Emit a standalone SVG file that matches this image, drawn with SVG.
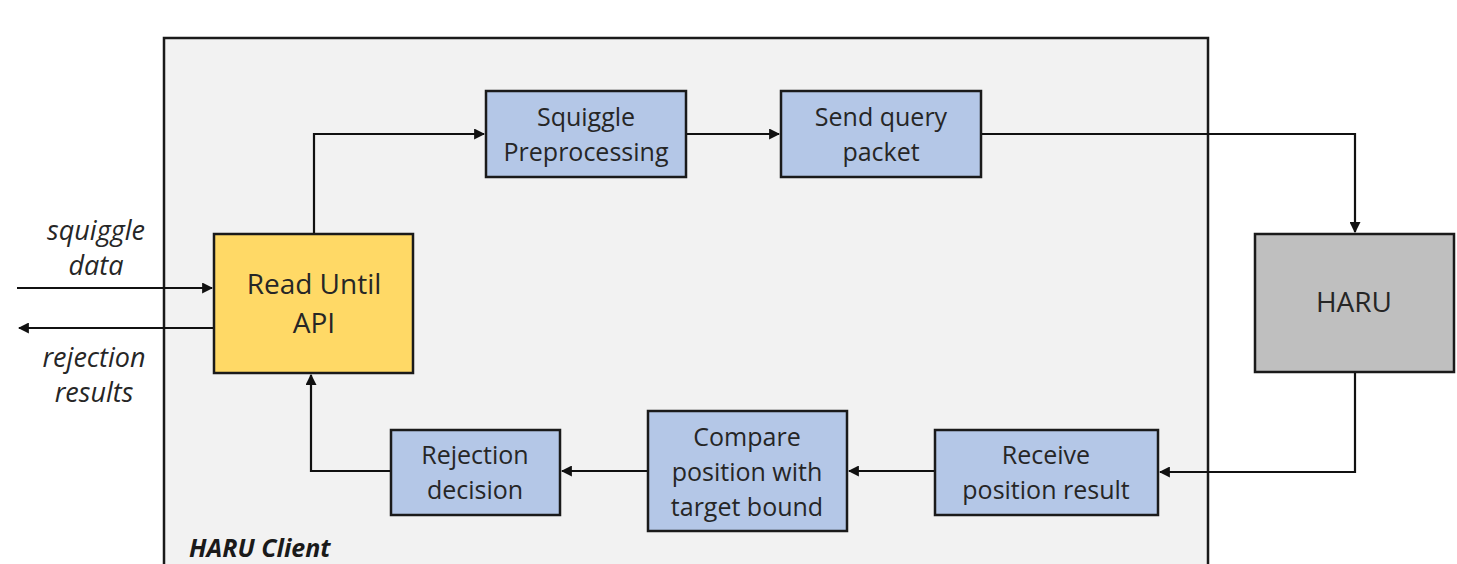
<svg xmlns="http://www.w3.org/2000/svg" width="1457" height="564" viewBox="0 0 1457 564">
  <style>
    .box { stroke: #1a1a1a; stroke-width: 2.5; }
    .step { fill: #b4c7e7; }
    .api { fill: #ffd966; }
    .server { fill: #bfbfbf; }
    .lbl { font-family: "Open Sans", "Noto Sans", "Liberation Sans", sans-serif; font-size: 25px; fill: #262626; text-anchor: middle; }
    .big { font-size: 28px; }
    .side { font-style: italic; font-size: 27px; }
    .title { font-family: "Open Sans", "Noto Sans", "Liberation Sans", sans-serif; font-size: 25px; font-weight: bold; font-style: italic; fill: #1a1a1a; }
    .wire { fill: none; stroke: #111; stroke-width: 2.2; }
  </style>
  <defs>
    <marker id="arrow" viewBox="0 0 10 10" refX="9" refY="5" markerWidth="5" markerHeight="5" orient="auto" markerUnits="strokeWidth">
      <path d="M0,0 L10,5 L0,10 z" fill="#111"/>
    </marker>
  </defs>

  <rect width="1457" height="564" fill="#ffffff"/>

  <!-- client enclosure -->
  <g id="haru-client">
    <rect x="164" y="38" width="1044" height="540" fill="#f2f2f2" class="box"/>
    <text class="title" x="189" y="557">HARU Client</text>
  </g>

  <g id="connectors">
    <path class="wire" d="M17,288 H212" marker-end="url(#arrow)"/>
    <path class="wire" d="M214,328 H19" marker-end="url(#arrow)"/>
    <path class="wire" d="M314,234 V134 H484" marker-end="url(#arrow)"/>
    <path class="wire" d="M686,134 H779" marker-end="url(#arrow)"/>
    <path class="wire" d="M981,134 H1355 V232" marker-end="url(#arrow)"/>
    <path class="wire" d="M1355,372 V472 H1160" marker-end="url(#arrow)"/>
    <path class="wire" d="M935,471 H849" marker-end="url(#arrow)"/>
    <path class="wire" d="M648,471 H562" marker-end="url(#arrow)"/>
    <path class="wire" d="M391,471 H311 V375" marker-end="url(#arrow)"/>
  </g>

  <g id="io-labels">
    <text class="lbl side" x="96" y="240">squiggle</text>
    <text class="lbl side" x="96" y="275">data</text>
    <text class="lbl side" x="94" y="367">rejection</text>
    <text class="lbl side" x="94" y="402">results</text>
  </g>

  <g id="read-until-api">
    <rect x="214" y="234" width="199" height="139" class="box api"/>
    <text class="lbl big" x="314" y="294">Read Until</text>
    <text class="lbl big" x="314" y="333">API</text>
  </g>

  <g id="squiggle-preprocessing">
    <rect x="486" y="91" width="200" height="86" class="box step"/>
    <text class="lbl" x="586" y="126">Squiggle</text>
    <text class="lbl" x="586" y="161">Preprocessing</text>
  </g>

  <g id="send-query-packet">
    <rect x="781" y="91" width="200" height="86" class="box step"/>
    <text class="lbl" x="881" y="126">Send query</text>
    <text class="lbl" x="881" y="161">packet</text>
  </g>

  <g id="haru">
    <rect x="1255" y="234" width="199" height="138" class="box server"/>
    <text class="lbl big" x="1354" y="312">HARU</text>
  </g>

  <g id="receive-position-result">
    <rect x="935" y="430" width="223" height="85" class="box step"/>
    <text class="lbl" x="1046" y="464">Receive</text>
    <text class="lbl" x="1046" y="499">position result</text>
  </g>

  <g id="compare-position">
    <rect x="648" y="411" width="199" height="120" class="box step"/>
    <text class="lbl" x="747" y="446">Compare</text>
    <text class="lbl" x="747" y="481">position with</text>
    <text class="lbl" x="747" y="516">target bound</text>
  </g>

  <g id="rejection-decision">
    <rect x="391" y="430" width="169" height="85" class="box step"/>
    <text class="lbl" x="475" y="464">Rejection</text>
    <text class="lbl" x="475" y="499">decision</text>
  </g>
</svg>
